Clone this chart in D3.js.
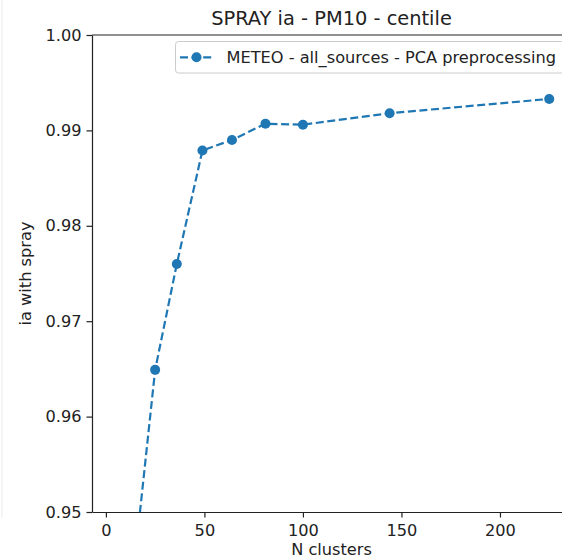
<!DOCTYPE html>
<html lang="en">
<head>
    <meta charset="UTF-8">
    <title>SPRAY ia - PM10 - centile</title>
    <script src="https://d3js.org/d3.v7.min.js"></script>
    <style>
        body { margin: 0; background: #fff; }
        svg { display: block; font-family: "DejaVu Sans", sans-serif; }
    </style>
</head>
<body>
<svg id="chart" width="562" height="560"></svg>
<script>
    // data
    const nClusters = [16, 25, 36, 49, 64, 81, 100, 144, 225];
    const iaValues = [0.9475, 0.9649, 0.9760, 0.9879, 0.9890, 0.9907, 0.9906, 0.9918, 0.9933];
    const xTicks = [0, 50, 100, 150, 200];
    const yTicks = [0.95, 0.96, 0.97, 0.98, 0.99, 1.00];
    const seriesName = "METEO - all_sources - PCA preprocessing";

    const data = nClusters.map((n, i) => ({n: n, v: iaValues[i]}));

    const svg = d3.select("#chart");
    const box = {left: 92, right: 571, top: 35, bottom: 512};
    const color = "#1f77b4";
    const fs = 16.2;

    // faint edge of neighbouring panel
    svg.append("line").attr("x1", 2).attr("x2", 2).attr("y1", 0).attr("y2", 518)
        .attr("stroke", "#ececec").attr("stroke-width", 1);

    const x = d3.scaleLinear().domain([-7.05, 236.05]).range([box.left, box.right]);
    const y = d3.scaleLinear().domain([0.95, 1.00]).range([box.bottom, box.top]);

    svg.append("defs").append("clipPath").attr("id", "clip")
        .append("rect").attr("x", box.left).attr("y", box.top)
        .attr("width", box.right - box.left).attr("height", box.bottom - box.top);

    const plot = svg.append("g").attr("clip-path", "url(#clip)");

    const line = d3.line().x(d => x(d.n)).y(d => y(d.v));
    plot.append("path").datum(data)
        .attr("d", line)
        .attr("fill", "none")
        .attr("stroke", color)
        .attr("stroke-width", 2.2)
        .attr("stroke-dasharray", "8,3.6");

    plot.selectAll("circle").data(data).join("circle")
        .attr("cx", d => x(d.n)).attr("cy", d => y(d.v))
        .attr("r", 5).attr("fill", color);

    // axes
    const xAxis = svg.append("g").attr("transform", `translate(0,${box.bottom})`)
        .call(d3.axisBottom(x).tickValues(xTicks).tickFormat(d3.format("d"))
            .tickSize(5.5).tickPadding(7).tickSizeOuter(0));
    const yAxis = svg.append("g").attr("transform", `translate(${box.left},0)`)
        .call(d3.axisLeft(y).tickValues(yTicks).tickFormat(d3.format(".2f"))
            .tickSize(5.5).tickPadding(5).tickSizeOuter(0));

    [xAxis, yAxis].forEach(a => {
        a.selectAll("text").attr("font-size", fs).attr("fill", "#222")
            .attr("font-family", "DejaVu Sans, sans-serif");
        a.selectAll("line, path").attr("stroke", "#222").attr("stroke-width", 1.2);
    });

    // top spine
    svg.append("line").attr("x1", box.left).attr("x2", box.right)
        .attr("y1", box.top).attr("y2", box.top)
        .attr("stroke", "#222").attr("stroke-width", 1.2);

    // title and labels
    svg.append("text").attr("x", (box.left + box.right) / 2).attr("y", 25)
        .attr("text-anchor", "middle").attr("font-size", 19.4).attr("fill", "#222")
        .text("SPRAY ia - PM10 - centile");

    svg.append("text").attr("x", (box.left + box.right) / 2).attr("y", 555)
        .attr("text-anchor", "middle").attr("font-size", fs).attr("fill", "#222")
        .text("N clusters");

    svg.append("text").attr("transform", `translate(31,${(box.top + box.bottom) / 2}) rotate(-90)`)
        .attr("text-anchor", "middle").attr("font-size", fs).attr("fill", "#222")
        .text("ia with spray");

    // legend
    const lg = svg.append("g");
    lg.append("rect").attr("x", 175.5).attr("y", 41.5).attr("width", 389).attr("height", 31.5)
        .attr("rx", 3).attr("fill", "#fff").attr("fill-opacity", 0.8)
        .attr("stroke", "#ccc").attr("stroke-width", 1);
    lg.append("line").attr("x1", 180).attr("x2", 213).attr("y1", 57.3).attr("y2", 57.3)
        .attr("stroke", color).attr("stroke-width", 2.2).attr("stroke-dasharray", "8,3.6");
    lg.append("circle").attr("cx", 196.5).attr("cy", 57.3).attr("r", 5).attr("fill", color);
    lg.append("text").attr("x", 226.5).attr("y", 62.7).attr("font-size", fs).attr("fill", "#222")
        .text(seriesName);
</script>
</body>
</html>
